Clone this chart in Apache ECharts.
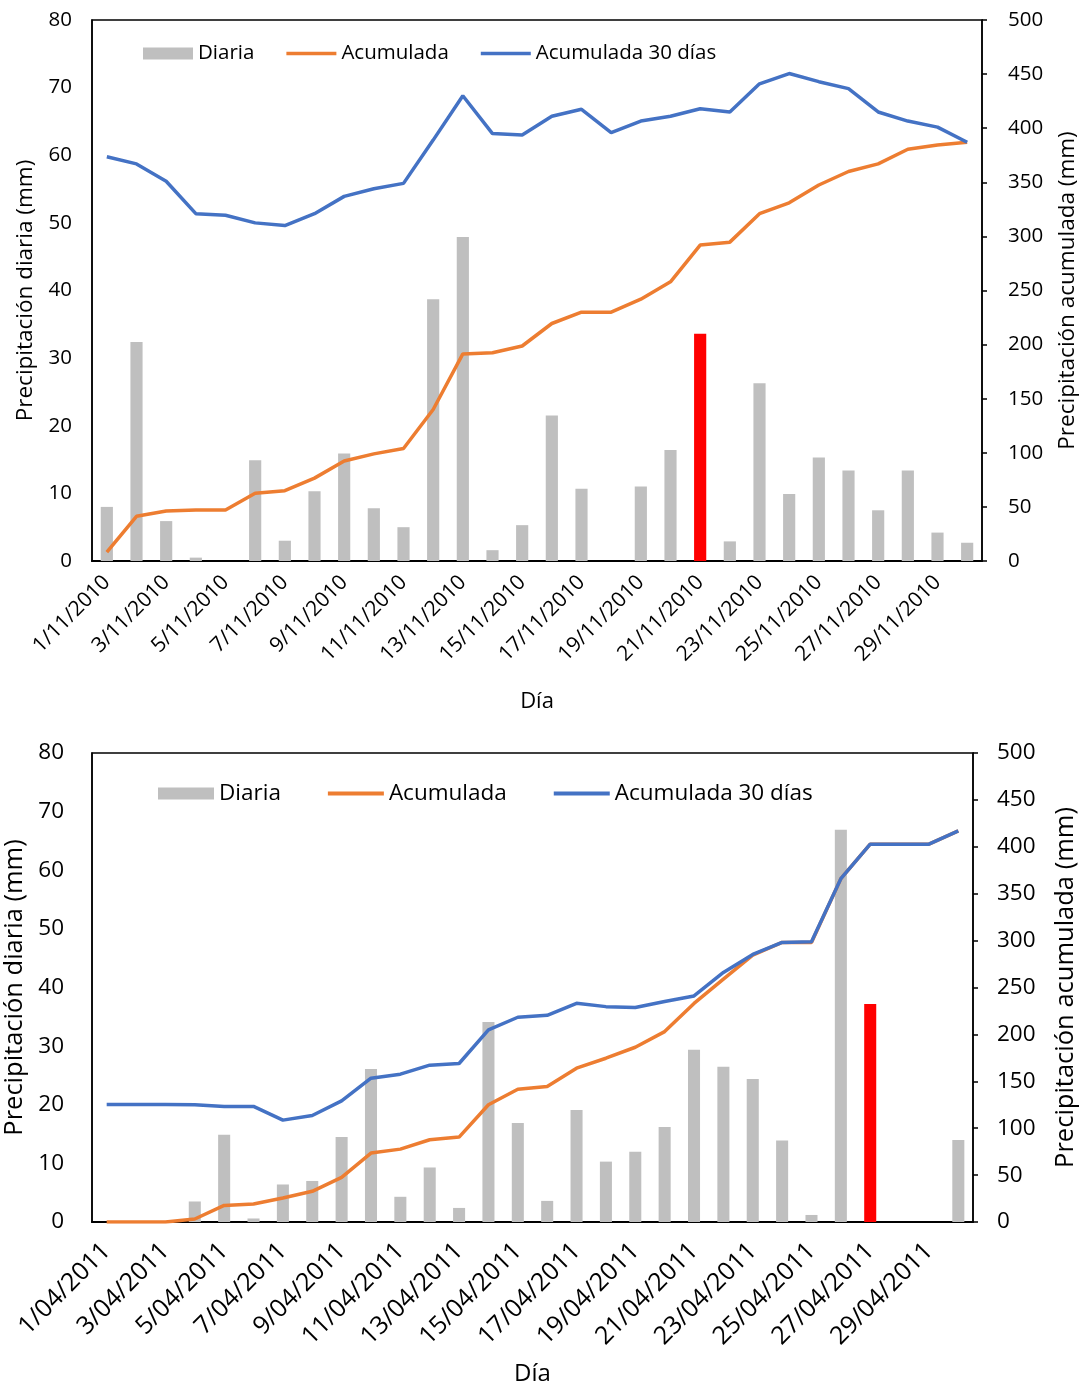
<!DOCTYPE html>
<html>
<head>
<meta charset="utf-8">
<title>Precipitación</title>
<script src="https://cdn.jsdelivr.net/npm/echarts@6/dist/echarts.min.js"></script>
<style>
  html, body { margin: 0; padding: 0; background: #fff; }
  #nov { position: absolute; left: 0; top: 0; width: 1080px; height: 720px; }
  #abr { position: absolute; left: 0; top: 720px; width: 1080px; height: 666px; }
</style>
</head>
<body>
<div id="nov"></div>
<div id="abr"></div>
<script>
// Noviembre 2010
const dias2010 = ['1/11/2010','2/11/2010','3/11/2010','4/11/2010','5/11/2010','6/11/2010','7/11/2010','8/11/2010','9/11/2010','10/11/2010',
  '11/11/2010','12/11/2010','13/11/2010','14/11/2010','15/11/2010','16/11/2010','17/11/2010','18/11/2010','19/11/2010','20/11/2010',
  '21/11/2010','22/11/2010','23/11/2010','24/11/2010','25/11/2010','26/11/2010','27/11/2010','28/11/2010','29/11/2010','30/11/2010'];
const diaria2010 = [8.0, 32.4, 5.9, 0.5, 0, 14.9, 3.0, 10.3, 15.9, 7.8, 5.0, 38.7, 47.9, 1.6, 5.3,
  21.5, 10.7, 0, 11.0, 16.4, 33.6, 2.9, 26.3, 9.9, 15.3, 13.4, 7.5, 13.4, 4.2, 2.7];
const acumulada2010 = [8.2, 41.3, 46.2, 47.2, 47.2, 62.7, 65.0, 76.6, 92.4, 99.0, 104.0, 140.0, 191.4, 192.4, 198.7,
  219.5, 230.0, 230.0, 242.0, 258.0, 292.0, 294.7, 321.0, 331.0, 347.5, 360.0, 367.0, 380.5, 384.5, 387.0];
const acum30_2010 = [373.6, 367.0, 351.0, 321.0, 319.5, 312.5, 310.0, 321.0, 337.0, 344.0, 349.0, 389.0, 430.0, 395.0, 393.7,
  411.0, 417.5, 396.0, 406.6, 411.0, 418.0, 415.0, 441.0, 450.5, 443.0, 436.6, 415.0, 406.6, 401.0, 387.0];
const destacado2010 = 20;

// Abril 2011
const dias2011 = ['1/04/2011','2/04/2011','3/04/2011','4/04/2011','5/04/2011','6/04/2011','7/04/2011','8/04/2011','9/04/2011','10/04/2011',
  '11/04/2011','12/04/2011','13/04/2011','14/04/2011','15/04/2011','16/04/2011','17/04/2011','18/04/2011','19/04/2011','20/04/2011',
  '21/04/2011','22/04/2011','23/04/2011','24/04/2011','25/04/2011','26/04/2011','27/04/2011','28/04/2011','29/04/2011','30/04/2011'];
const diaria2011 = [0, 0, 0, 3.5, 14.9, 0.6, 6.4, 7.0, 14.5, 26.1, 4.3, 9.3, 2.4, 34.1, 16.9,
  3.6, 19.1, 10.3, 12.0, 16.2, 29.4, 26.5, 24.4, 13.9, 1.2, 66.9, 37.2, 0, 0, 14.0];
const acumulada2011 = [0, 0, 0, 3.2, 17.7, 19.2, 25.6, 32.7, 47.6, 73.5, 77.7, 87.7, 90.5, 125.0, 141.6,
  144.4, 164.0, 174.6, 186.3, 203.0, 233.0, 259.0, 284.6, 298.0, 298.0, 366.0, 402.8, 402.8, 402.8, 417.0];
const acum30_2011 = [125.3, 125.3, 125.3, 125.0, 123.2, 123.2, 108.6, 113.6, 129.2, 153.3, 157.6, 167.2, 169.0, 204.8, 218.3,
  220.4, 233.2, 229.6, 228.6, 235.0, 241.0, 266.0, 285.3, 298.0, 298.8, 366.0, 402.8, 402.8, 402.8, 417.0];
const destacado2011 = 26;

const FONT = 'Open Sans';
const GRIS = '#BFBFBF', ROJO = '#FF0000', NARANJA = '#ED7D31', AZUL = '#4472C4';
// Short bar-shaped path used as the legend key of the line series
const ICONO_LINEA = 'path://M0,0H50V3.5H0Z';

function opciones(cfg) {
  const barras = cfg.diaria.map((v, i) => i === cfg.destacado
    ? { value: v, itemStyle: { color: ROJO } }
    : v);
  const texto = (size) => ({ fontFamily: FONT, fontSize: size, color: '#000' });
  return {
    animation: false,
    textStyle: { fontFamily: FONT, color: '#000' },
    legend: {
      left: cfg.legendLeft, top: cfg.legendTop, padding: 0,
      itemWidth: cfg.legendItemW, itemHeight: 12, itemGap: cfg.legendGap,
      symbolKeepAspect: true,
      textStyle: texto(cfg.fontSize),
      data: [
        { name: 'Diaria', icon: 'rect' },
        { name: 'Acumulada', icon: ICONO_LINEA },
        { name: 'Acumulada 30 días', icon: ICONO_LINEA }
      ]
    },
    grid: {
      left: cfg.grid.left, top: cfg.grid.top, width: cfg.grid.width, height: cfg.grid.height,
      outerBoundsMode: 'none', containLabel: false,
      show: true, borderColor: '#000', borderWidth: 1.5, backgroundColor: 'transparent'
    },
    xAxis: {
      type: 'category', data: cfg.dias, boundaryGap: true,
      name: 'Día', nameLocation: 'middle', nameGap: cfg.xNameGap,
      nameTextStyle: texto(cfg.diaSize),
      axisLine: { lineStyle: { color: '#000', width: 2 } },
      axisTick: { show: false },
      axisLabel: Object.assign({ interval: 1, rotate: 45, margin: cfg.xLabelMargin }, texto(cfg.xLabelSize)),
      splitLine: { show: false }
    },
    yAxis: [
      {
        type: 'value', min: 0, max: 80, interval: 10,
        name: 'Precipitación diaria (mm)', nameLocation: 'middle', nameRotate: 90, nameGap: cfg.leftNameGap,
        nameTextStyle: texto(cfg.titleSize),
        axisLine: { show: true, lineStyle: { color: '#000', width: 1.5 } },
        axisTick: { show: false },
        axisLabel: Object.assign({ margin: cfg.leftLabelMargin }, texto(cfg.fontSize)),
        splitLine: { show: false }
      },
      {
        type: 'value', min: 0, max: 500, interval: 50, position: 'right',
        name: 'Precipitación acumulada (mm)', nameLocation: 'middle', nameRotate: 90, nameGap: cfg.rightNameGap,
        nameTextStyle: texto(cfg.titleSize),
        axisLine: { show: true, lineStyle: { color: '#000', width: 1.5 } },
        axisTick: { show: true, inside: false, length: 5, lineStyle: { color: '#000', width: 1.5 } },
        axisLabel: Object.assign({ margin: cfg.rightLabelMargin }, texto(cfg.fontSize)),
        splitLine: { show: false }
      }
    ],
    series: [
      {
        name: 'Diaria', type: 'bar', yAxisIndex: 0, data: barras,
        barWidth: '41%', itemStyle: { color: GRIS }
      },
      {
        name: 'Acumulada', type: 'line', yAxisIndex: 1, data: cfg.acumulada,
        symbol: 'none', lineStyle: { color: NARANJA, width: 3.5 }, itemStyle: { color: NARANJA }
      },
      {
        name: 'Acumulada 30 días', type: 'line', yAxisIndex: 1, data: cfg.acum30,
        symbol: 'none', lineStyle: { color: AZUL, width: 3.5 }, itemStyle: { color: AZUL }
      }
    ]
  };
}

const chartNov = echarts.init(document.getElementById('nov'), null, { renderer: 'canvas' });
chartNov.setOption(opciones({
  dias: dias2010, diaria: diaria2010, acumulada: acumulada2010, acum30: acum30_2010, destacado: destacado2010,
  fontSize: 20.5, xLabelSize: 21, titleSize: 22.5, diaSize: 22,
  grid: { left: 92, top: 20, width: 890, height: 541 },
  legendLeft: 143, legendTop: 43, legendItemW: 50, legendGap: 32,
  xNameGap: 130, xLabelMargin: 18, leftNameGap: 55, rightNameGap: 74, leftLabelMargin: 20, rightLabelMargin: 26
}));

const chartAbr = echarts.init(document.getElementById('abr'), null, { renderer: 'canvas' });
chartAbr.setOption(opciones({
  dias: dias2011, diaria: diaria2011, acumulada: acumulada2011, acum30: acum30_2011, destacado: destacado2011,
  fontSize: 22.5, xLabelSize: 25, titleSize: 25.5, diaSize: 24,
  grid: { left: 92, top: 33, width: 881, height: 469 },
  legendLeft: 158, legendTop: 62, legendItemW: 56, legendGap: 47,
  xNameGap: 140, xLabelMargin: 25, leftNameGap: 58, rightNameGap: 80, leftLabelMargin: 28, rightLabelMargin: 24
}));
</script>
</body>
</html>
